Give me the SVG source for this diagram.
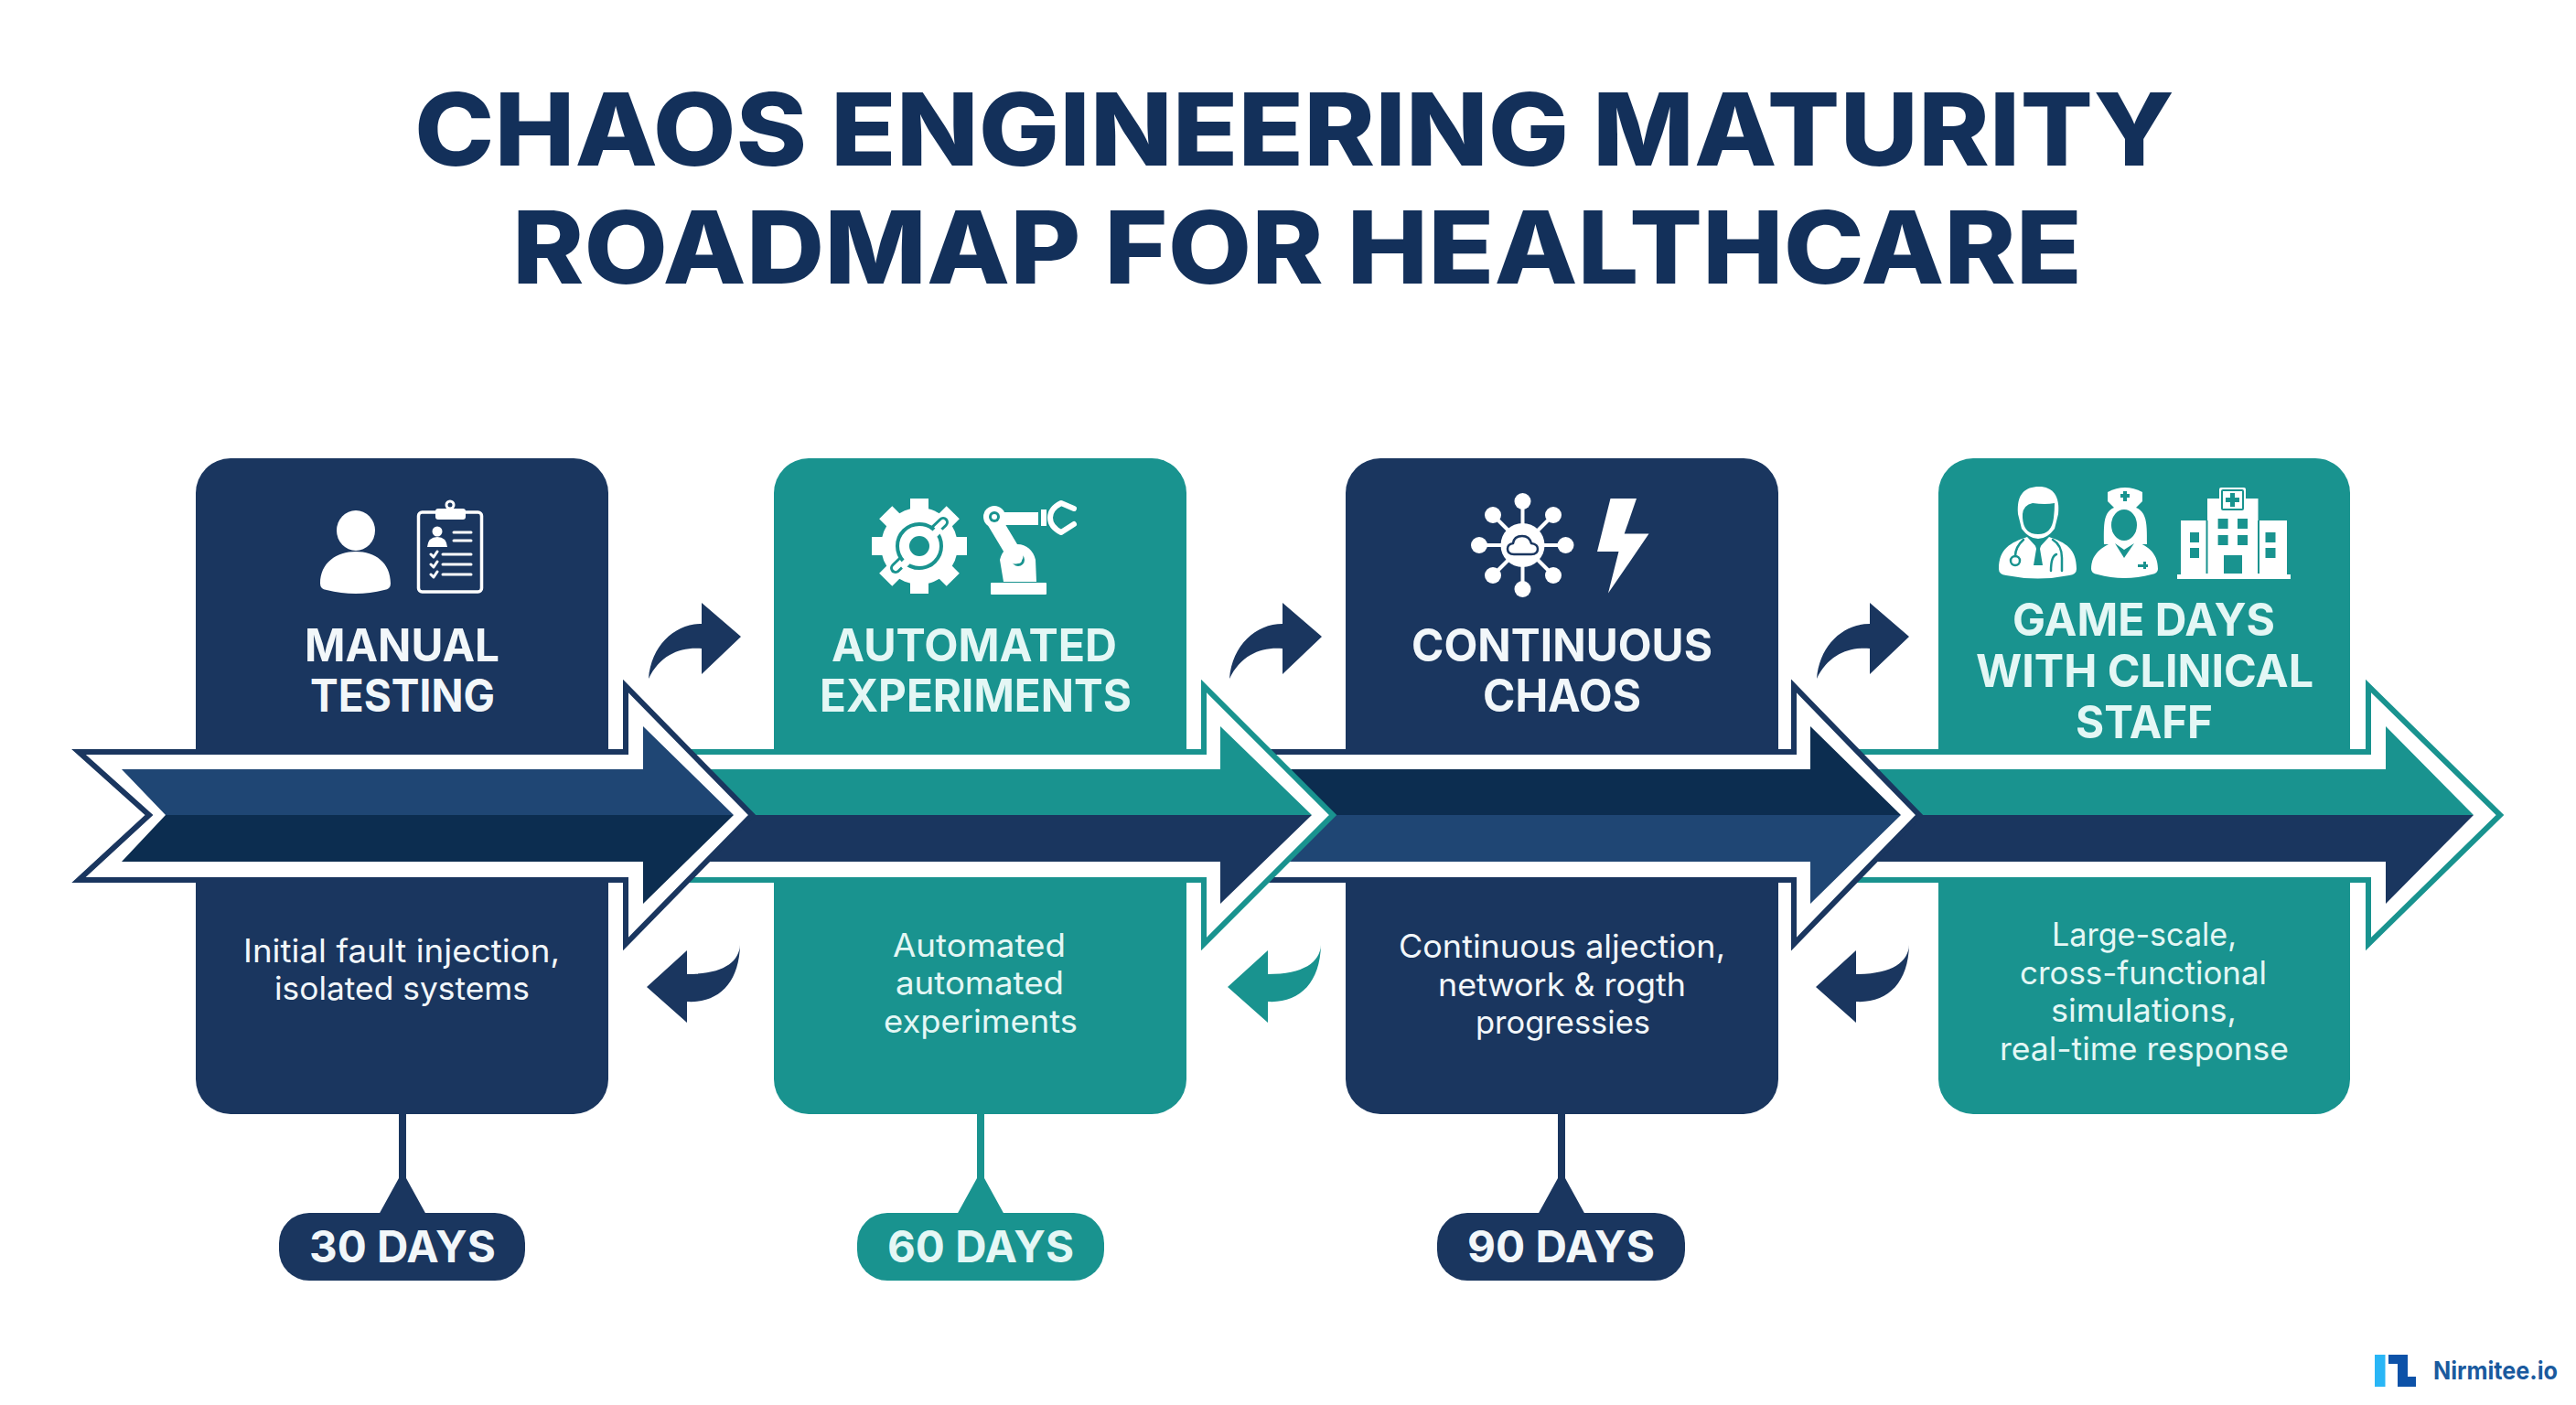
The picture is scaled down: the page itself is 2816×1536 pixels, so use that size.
<svg xmlns="http://www.w3.org/2000/svg" width="2816" height="1536" viewBox="0 0 2816 1536">
<style>
text{font-family:Inter,"Liberation Sans",sans-serif}
.title{font-size:110px;font-weight:800;fill:#13305a}
.lab{font-size:49px;font-weight:700;fill:#f2f7fa}
.body{font-size:35px;font-weight:400;fill:#f2f7fa}
.pill{font-size:48px;font-weight:700;fill:#f2f7fa}
#node-automated text,#node-gamedays text,#badge-60 text{fill:#e4f7f5}
.navy{fill:#1a365f}
.teal{fill:#19938f}
.w{fill:#fff}
.wl{fill:none;stroke:#fff;stroke-linecap:round;stroke-linejoin:round}
.nl{fill:none;stroke:#1a365f;stroke-linecap:round;stroke-linejoin:round}
.tl{fill:none;stroke:#19938f;stroke-linecap:round;stroke-linejoin:round}
.oN{fill:#fff;stroke:#1a365f;stroke-width:6;stroke-miterlimit:8}
.oT{fill:#fff;stroke:#19938f;stroke-width:6;stroke-miterlimit:8}
.c1{fill:#1f4674}
.c2{fill:#0c2d50}
</style>
<defs>
<path id="up" d="M709 742C712 705 738 682 767 682L767 659L810 696L767 737L767 709C745 707 722 715 709 742Z"/>
<path id="back" d="M809 1033C808 1052 790 1065 751 1065L751 1039L707 1079L751 1118L751 1095C785 1097 808 1075 809 1033Z"/>
</defs>
<rect width="2816" height="1536" fill="#fff"/>
<g id="title">
<text class="title" x="453" y="181" textLength="1924" lengthAdjust="spacingAndGlyphs">CHAOS ENGINEERING MATURITY</text>
<text class="title" x="560" y="310" textLength="1716" lengthAdjust="spacingAndGlyphs">ROADMAP FOR HEALTHCARE</text>
</g>
<g id="node-manual">
<rect class="navy" x="214" y="501" width="451" height="717" rx="38"/>
<ellipse class="w" cx="389" cy="580" rx="21" ry="22"/>
<path class="w" d="M350 638C350 615 368 603 389 603C410 603 427 615 427 638Q427 644 420 645Q389 653 357 645Q350 644 350 638Z"/>
<rect x="457.500" y="560" width="69" height="87" rx="4" class="wl" stroke-width="3.500"/>
<rect class="w" x="476" y="556" width="33" height="12" rx="3"/>
<circle class="wl" cx="492" cy="552" r="4" stroke-width="3"/>
<circle class="w" cx="478" cy="581" r="5.500"/>
<path class="w" d="M467 598Q468 587 478 587Q488 587 489 598Z"/>
<path class="wl" stroke-width="3" d="M496 582H515M496 591H515M484 606H515M484 617H515M484 628H515M471 606l3 3l4 -6M471 617l3 3l4 -6M471 628l3 3l4 -6"/>
<text class="lab" x="333" y="723" textLength="213" lengthAdjust="spacingAndGlyphs">MANUAL</text>
<text class="lab" x="339" y="778" textLength="202" lengthAdjust="spacingAndGlyphs">TESTING</text>
<text class="body" x="266" y="1052" textLength="346" lengthAdjust="spacingAndGlyphs">Initial fault injection,</text>
<text class="body" x="300" y="1093" textLength="279" lengthAdjust="spacingAndGlyphs">isolated systems</text>
</g>
<g id="node-automated">
<rect class="teal" x="846" y="501" width="451" height="717" rx="38"/>
<g transform="translate(1005 597)">
<circle class="w" r="42"/>
<g class="w">
<rect x="-10" y="-52" width="20" height="18"/>
<rect x="-10" y="-52" width="20" height="18" transform="rotate(45)"/>
<rect x="-10" y="-52" width="20" height="18" transform="rotate(90)"/>
<rect x="-10" y="-52" width="20" height="18" transform="rotate(135)"/>
<rect x="-10" y="-52" width="20" height="18" transform="rotate(180)"/>
<rect x="-10" y="-52" width="20" height="18" transform="rotate(225)"/>
<rect x="-10" y="-52" width="20" height="18" transform="rotate(270)"/>
<rect x="-10" y="-52" width="20" height="18" transform="rotate(315)"/>
</g>
<path class="tl" stroke-width="12" d="M-26 24L26 -26"/>
<path class="wl" stroke-width="6" d="M-26 24L26 -26"/>
<circle class="w" r="24" stroke="#19938f" stroke-width="4"/>
<path class="w" d="M-22 20L20 -22L26 -17L-17 26Z"/>
<circle class="teal" r="11"/>
</g>
<rect class="w" x="1083" y="637" width="61" height="13" rx="1"/>
<path class="w" d="M1097 636L1093 612A20 22 0 0 1 1132 612L1133 636Z"/>
<circle class="teal" cx="1113" cy="612" r="7"/>
<circle class="w" cx="1113" cy="612" r="4"/>
<path class="wl" stroke-width="17" d="M1086 568L1110 608"/>
<path class="w" d="M1086 560H1135V574H1086Z"/>
<rect class="w" x="1138" y="557" width="6" height="18"/>
<circle class="w" cx="1087" cy="565" r="12"/>
<circle class="teal" cx="1087" cy="565" r="6"/>
<circle class="w" cx="1087" cy="565" r="3"/>
<path class="wl" stroke-width="6" d="M1174 556L1160 550Q1148 556 1148 566Q1148 576 1160 582L1174 573"/>
<text class="lab" x="909" y="723" textLength="312" lengthAdjust="spacingAndGlyphs">AUTOMATED</text>
<text class="lab" x="896" y="778" textLength="341" lengthAdjust="spacingAndGlyphs">EXPERIMENTS</text>
<text class="body" x="976" y="1046" textLength="189" lengthAdjust="spacingAndGlyphs">Automated</text>
<text class="body" x="979" y="1087" textLength="184" lengthAdjust="spacingAndGlyphs">automated</text>
<text class="body" x="966" y="1129" textLength="212" lengthAdjust="spacingAndGlyphs">experiments</text>
</g>
<g id="node-continuous">
<rect class="navy" x="1471" y="501" width="473" height="717" rx="38"/>
<path class="wl" stroke-width="4" d="M1664.500 548V644M1617 596H1711.500M1632 563L1698 629M1698 563L1632 629"/>
<g class="w">
<circle cx="1664.500" cy="548" r="9"/><circle cx="1632" cy="563" r="9"/><circle cx="1698" cy="563" r="9"/>
<circle cx="1617" cy="596" r="9"/><circle cx="1711.500" cy="596" r="9"/>
<circle cx="1632" cy="629" r="9"/><circle cx="1698" cy="629" r="9"/><circle cx="1664.500" cy="644" r="9"/>
<circle cx="1664.500" cy="596" r="24"/>
</g>
<path class="nl" stroke-width="2.500" d="M1655 606Q1648 606 1648 600Q1648 595 1654 594Q1655 586 1664 586Q1672 586 1674 594Q1681 595 1681 600Q1681 606 1674 606Z"/>
<polygon class="w" points="1760.500,545 1789,545 1775.700,583.600 1802.500,583.600 1758,648.600 1769.500,603 1746,603"/>
<text class="lab" x="1543" y="723" textLength="329" lengthAdjust="spacingAndGlyphs">CONTINUOUS</text>
<text class="lab" x="1621" y="778" textLength="173" lengthAdjust="spacingAndGlyphs">CHAOS</text>
<text class="body" x="1529" y="1047" textLength="357" lengthAdjust="spacingAndGlyphs">Continuous aljection,</text>
<text class="body" x="1572" y="1089" textLength="271" lengthAdjust="spacingAndGlyphs">network &amp; rogth</text>
<text class="body" x="1613" y="1130" textLength="191" lengthAdjust="spacingAndGlyphs">progressies</text>
</g>
<g id="node-gamedays">
<rect class="teal" x="2119" y="501" width="450" height="717" rx="38"/>
<path class="w" d="M2185 622C2185 600 2198 593 2216 587L2228 600L2240 587C2258 593 2270 600 2270 622Q2270 628 2262 629Q2228 636 2193 629Q2185 628 2185 622Z"/>
<path class="w" d="M2206 562C2204 540 2214 532 2229 532C2244 532 2252 542 2250 562L2246 578Q2238 589 2228 589Q2218 589 2210 578Z"/>
<path class="teal" d="M2211 562Q2212 552 2222 550Q2236 552 2246 550Q2246 558 2245 566Q2243 584 2228 584Q2212 584 2211 566Z"/>
<path class="tl" stroke-width="2.500" d="M2212 590Q2203 598 2203 608M2244 590Q2254 596 2254 610Q2254 620 2254 624M2242 624Q2242 608 2248 606"/>
<circle class="tl" cx="2203" cy="613" r="5" stroke-width="2.500"/>
<path class="teal" d="M2224 593H2232L2230 600L2233 618H2223L2226 600Z"/>
<path class="w" d="M2300 595C2300 570 2298 553 2323 553C2348 553 2347 570 2347 595Z"/>
<path class="w" d="M2286 622C2286 603 2302 596 2314 591H2332C2346 596 2359 603 2359 622Q2359 627 2352 628Q2322 636 2293 628Q2286 627 2286 622Z"/>
<ellipse class="teal" cx="2322" cy="574" rx="14" ry="17"/>
<path class="w" d="M2304 538Q2323 528 2342 538L2342 548L2334 556H2312L2304 548Z"/>
<path class="teal" d="M2321 537H2325V540H2328V544H2325V548H2321V544H2318V540H2321Z"/>
<path class="teal" d="M2312 594L2322 610L2333 594L2322 601Z"/>
<path class="teal" d="M2337 617H2343V614H2346V617H2348V620H2346V622H2343V620H2337Z"/>
<path class="w" d="M2413 545H2468.500V569H2500V628H2504V633H2380V628H2384V569H2413Z"/>
<rect class="w" x="2426" y="533" width="29" height="27" rx="2"/>
<rect x="2429" y="536" width="23" height="21" rx="1" fill="none" stroke="#19938f" stroke-width="2"/>
<path class="teal" d="M2438 539H2443V544H2448V549H2443V554H2438V549H2433V544H2438Z"/>
<g class="teal">
<rect x="2424.600" y="567" width="11" height="11"/><rect x="2446" y="567" width="11" height="11"/>
<rect x="2424.600" y="585" width="11" height="11"/><rect x="2446" y="585" width="11" height="11"/>
<rect x="2431" y="607" width="20" height="20"/>
<rect x="2394" y="582" width="10" height="11"/><rect x="2394" y="599" width="10" height="11"/>
<rect x="2476.500" y="582" width="11" height="11"/><rect x="2476.500" y="599" width="11" height="11"/>
<rect x="2411.500" y="569" width="2" height="58"/><rect x="2468" y="569" width="2" height="58"/>
</g>
<text class="lab" x="2200" y="695" textLength="287" lengthAdjust="spacingAndGlyphs">GAME DAYS</text>
<text class="lab" x="2160" y="751" textLength="369" lengthAdjust="spacingAndGlyphs">WITH CLINICAL</text>
<text class="lab" x="2269" y="807" textLength="150" lengthAdjust="spacingAndGlyphs">STAFF</text>
<text class="body" x="2243" y="1034" textLength="202" lengthAdjust="spacingAndGlyphs">Large-scale,</text>
<text class="body" x="2208" y="1076" textLength="270" lengthAdjust="spacingAndGlyphs">cross-functional</text>
<text class="body" x="2242" y="1117" textLength="203" lengthAdjust="spacingAndGlyphs">simulations,</text>
<text class="body" x="2186" y="1159" textLength="316" lengthAdjust="spacingAndGlyphs">real-time response</text>
</g>
<g id="connectors">
<g id="ribbon-4">
<polygon class="oT" points="1980,822 2589,822 2589,750 2733,891 2589,1032 2589,962 1980,962"/>
<polygon class="teal" points="1980,841 2608,841 2608,794 2704,891 1980,891"/>
<polygon class="navy" points="1980,891 2704,891 2608,988 2608,942 1980,942"/>
</g>
<g id="ribbon-3">
<polygon class="oN" points="1340,822 1961,822 1961,750 2098,891 1961,1032 1961,962 1340,962"/>
<polygon class="c2" points="1340,841 1979,841 1979,794 2078,891 1340,891"/>
<polygon class="c1" points="1340,891 2078,891 1979,988 1979,942 1340,942"/>
</g>
<g id="ribbon-2">
<polygon class="oT" points="700,822 1316,822 1316,750 1457,891 1316,1032 1316,962 700,962"/>
<polygon class="teal" points="700,841 1334,841 1334,794 1434,891 700,891"/>
<polygon class="navy" points="700,891 1434,891 1334,988 1334,942 700,942"/>
</g>
<g id="ribbon-1">
<polygon class="oN" points="86,822 684,822 684,750 822,891 684,1032 684,962 86,962 163,891"/>
<polygon class="c1" points="133,841 703,841 703,794 802,891 181,891"/>
<polygon class="c2" points="181,891 802,891 703,988 703,942 133,942"/>
</g>
<use href="#up" class="navy"/>
<use href="#up" class="navy" transform="translate(635 0)"/>
<use href="#up" class="navy" transform="translate(1277 0)"/>
<use href="#back" class="navy"/>
<use href="#back" class="teal" transform="translate(635 0)"/>
<use href="#back" class="navy" transform="translate(1278 0)"/>
</g>
<g id="badge-30">
<path class="navy" d="M436 1218H444V1288L466 1328H414L436 1288Z"/>
<rect class="navy" x="305" y="1326" width="269" height="74" rx="33"/>
<text class="pill" x="338" y="1380" textLength="204" lengthAdjust="spacingAndGlyphs">30 DAYS</text>
</g>
<g id="badge-60">
<path class="teal" d="M1068 1218H1076V1288L1098 1328H1046L1068 1288Z"/>
<rect class="teal" x="937" y="1326" width="270" height="74" rx="33"/>
<text class="pill" x="970" y="1380" textLength="204" lengthAdjust="spacingAndGlyphs">60 DAYS</text>
</g>
<g id="badge-90">
<path class="navy" d="M1703 1218H1711V1288L1733 1328H1681L1703 1288Z"/>
<rect class="navy" x="1571" y="1326" width="271" height="74" rx="33"/>
<text class="pill" x="1604" y="1380" textLength="205" lengthAdjust="spacingAndGlyphs">90 DAYS</text>
</g>
<g id="logo">
<rect x="2596" y="1481" width="11.500" height="35" fill="#29b6f6"/>
<path d="M2611 1481H2632V1505H2641V1516H2621V1491H2611Z" fill="#0d52a8"/>
<text x="2660" y="1508" font-size="27" font-weight="700" fill="#1a5a9e" textLength="136" lengthAdjust="spacingAndGlyphs">Nirmitee.io</text>
</g>
</svg>
